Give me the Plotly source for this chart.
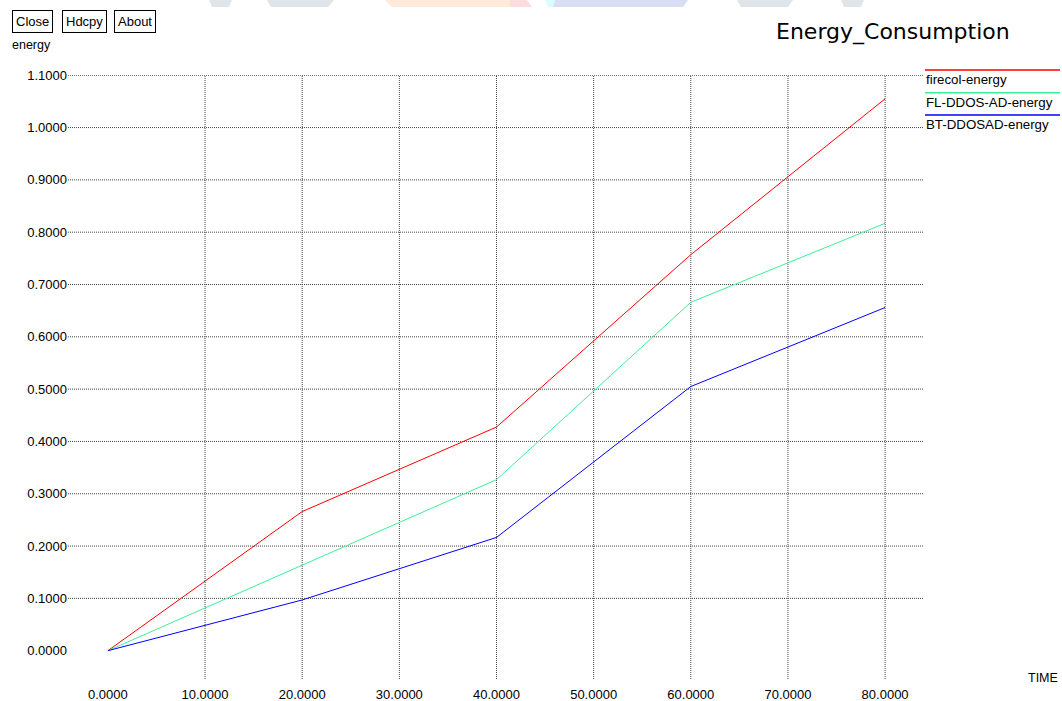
import plotly.graph_objects as go

# ---- data ----
time = [0, 20, 40, 60, 80]
firecol_energy = [0.0, 0.266, 0.4275, 0.757, 1.055]
fl_ddos_ad_energy = [0.0, 0.164, 0.327, 0.666, 0.817]
bt_ddosad_energy = [0.0, 0.097, 0.2165, 0.505, 0.656]

series_names = ["firecol-energy", "FL-DDOS-AD-energy", "BT-DDOSAD-energy"]
series_values = [firecol_energy, fl_ddos_ad_energy, bt_ddosad_energy]
series_colors = ["#ff0000", "#3cf096", "#0000ff"]

x_ticks = [0, 10, 20, 30, 40, 50, 60, 70, 80]
y_ticks = [0.0, 0.1, 0.2, 0.3, 0.4, 0.5, 0.6, 0.7, 0.8, 0.9, 1.0, 1.1]
x_grid = [10, 20, 30, 40, 50, 60, 70, 80]
y_grid = [0.1, 0.2, 0.3, 0.4, 0.5, 0.6, 0.7, 0.8, 0.9, 1.0, 1.1]

W, H = 1062, 701
L, R, T, B = 68, 139, 75, 22
PW, PH = W - L - R, H - T - B
XR = [-4.107, 83.9]
YR = [-0.0541, 1.1005]

FONT = "Liberation Sans, Arial, sans-serif"


def px(x):
    return (x - L) / PW


def py(y):
    return (H - B - y) / PH


fig = go.Figure()
for name, vals, col in zip(series_names, series_values, series_colors):
    fig.add_trace(go.Scatter(x=time, y=vals, mode="lines", name=name,
                             line=dict(color=col, width=1), showlegend=False,
                             hoverinfo="x+y+name"))

label_style = dict(tickformat=".4f", showgrid=False, zeroline=False, showline=False,
                   ticks="", automargin=False, tickfont=dict(size=13, family=FONT))

fig.update_layout(
    width=W, height=H,
    margin=dict(l=L, r=R, t=T, b=B, pad=0),
    paper_bgcolor="white", plot_bgcolor="white",
    font=dict(family=FONT, size=13, color="black"),
    xaxis=dict(range=XR, tickvals=x_ticks, ticklabelstandoff=6, **label_style),
    yaxis=dict(range=YR, tickvals=y_ticks, **label_style),
    showlegend=False,
)

annotations = []
shapes = []

# dotted grid (xgraph style: no grid line at zero)
grid_line = dict(color="#444444", width=1, dash="1px,1px")
for v in x_grid:
    shapes.append(dict(type="line", xref="x", yref="paper", x0=v, x1=v, y0=0, y1=1,
                       line=grid_line, layer="below"))
for v in y_grid:
    shapes.append(dict(type="line", xref="paper", yref="y", x0=0, x1=1, y0=v, y1=v,
                       line=grid_line, layer="below"))

# title
annotations.append(dict(text="Energy_Consumption", xref="paper", yref="paper",
                        x=px(893), y=py(32), xanchor="center", yanchor="middle",
                        showarrow=False, font=dict(family="DejaVu Sans, sans-serif", size=22, color="black")))
# axis labels
annotations.append(dict(text="energy", xref="paper", yref="paper", x=px(10), y=py(45),
                        xanchor="left", yanchor="middle", showarrow=False,
                        font=dict(family=FONT, size=12.5, color="black")))
annotations.append(dict(text="TIME", xref="paper", yref="paper", x=px(1060), y=py(678),
                        xanchor="right", yanchor="middle", showarrow=False,
                        font=dict(family=FONT, size=12.5, color="black")))

# buttons
for label, cx in [("Close", 32.5), ("Hdcpy", 84), ("About", 135)]:
    annotations.append(dict(text=label, xref="paper", yref="paper", x=px(cx), y=py(21.5),
                            xanchor="center", yanchor="middle", showarrow=False,
                            bordercolor="black", borderwidth=1, borderpad=3,
                            bgcolor="white", font=dict(family=FONT, size=13, color="black")))

# legend (custom, xgraph style: line above text)
leg_line_y = [70, 92.7, 115]
leg_text_y = [80, 102.5, 124.5]
for name, col, ly, ty in zip(series_names, series_colors, leg_line_y, leg_text_y):
    shapes.append(dict(type="line", xref="paper", yref="paper", x0=px(925), x1=px(1060),
                       y0=py(ly), y1=py(ly), line=dict(color=col, width=1.6)))
    annotations.append(dict(text=name, xref="paper", yref="paper", x=px(924), y=py(ty),
                            xanchor="left", yanchor="middle", showarrow=False,
                            font=dict(family=FONT, size=13.3, color="black")))

# faint watermark fragments at the top edge
wm = [
    ("#dfe5e8", [(209, 0), (232, 0), (229, 7), (212, 7)]),
    ("#dfe5e8", [(267, 0), (334, 0), (328, 7), (271, 7)]),
    ("#fdeadb", [(385, 0), (510, 0), (510, 7), (392, 7)]),
    ("#fddcdf", [(510, 0), (527, 0), (532, 7), (510, 7)]),
    ("#dafcfc", [(545, 0), (555, 0), (553, 7), (548, 7)]),
    ("#d8def4", [(555, 0), (688, 0), (683, 7), (553, 7)]),
    ("#dfe5e8", [(737, 0), (793, 0), (788, 7), (741, 7)]),
    ("#dfe5e8", [(841, 0), (864, 0), (861, 7), (844, 7)]),
]
for col, pts in wm:
    path = "M " + " L ".join(f"{px(a):.5f},{py(b):.5f}" for a, b in pts) + " Z"
    shapes.append(dict(type="path", xref="paper", yref="paper", path=path,
                       fillcolor=col, line=dict(width=0), layer="below"))

fig.update_layout(annotations=annotations, shapes=shapes)
fig.write_html("out.html", config={"displayModeBar": False},
               post_script="document.body.style.margin='0';document.body.style.overflow='hidden';")
